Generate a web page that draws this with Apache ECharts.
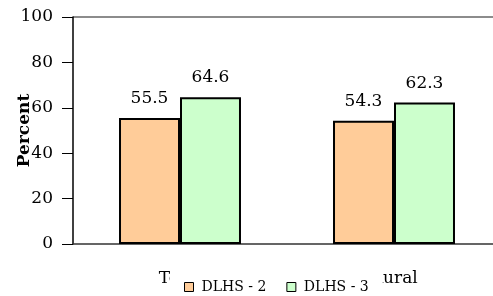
<!DOCTYPE html>
<html>
<head>
<meta charset="utf-8">
<script src="https://cdn.jsdelivr.net/npm/echarts@6/dist/echarts.min.js"></script>
<style>
	html, body { margin: 0; padding: 0; background: #fff; }
	#chart { width: 493px; height: 296px; }
</style>
</head>
<body>
<div id="chart"></div>
<script>
var categories = ['Total', 'Rural'];
var dlhs2 = [55.5, 54.3];
var dlhs3 = [64.6, 62.3];
var yTicks = [0, 20, 40, 60, 80, 100];

var font = 'DejaVu Serif';
let myChart = echarts.init(document.getElementById('chart'));
let option;

// only the top split line (100) is drawn, grey
let splitColors = yTicks.map((v, i) => i == yTicks.length - 1 ? '#8c8c8c' : 'rgba(0,0,0,0)');

function barSeries(name, data, color) {
	return {
		name: name,
		type: 'bar',
		data: data,
		barGap: '0%',
		barCategoryGap: '43%',
		itemStyle: {
			color: color,
			borderColor: '#000',
			borderWidth: 2
		},
		label: {
			show: true,
			position: 'top',
			distance: 11,
			color: '#000',
			fontFamily: font,
			fontSize: 17
		}
	};
}

option = {
	animation: false,
	grid: {
		left: 73,
		top: 17,
		width: 428,
		height: 227,
		containLabel: false,
		outerBoundsMode: 'none'
	},
	legend: {
		data: ['DLHS - 2', 'DLHS - 3'],
		left: 170,
		bottom: 0,
		icon: 'rect',
		itemWidth: 9,
		itemHeight: 9,
		itemGap: 20,
		padding: [12, 14, 2, 14],
		backgroundColor: '#fff',
		itemStyle: {
			borderColor: '#000',
			borderWidth: 1
		},
		textStyle: {
			color: '#000',
			fontFamily: font,
			fontSize: 14,
			padding: [0, 0, 0, 3]
		}
	},
	xAxis: {
		type: 'category',
		data: categories,
		axisLine: { lineStyle: { color: '#333', width: 1.5 } },
		axisTick: { length: 10, lineStyle: { color: '#333' } },
		axisLabel: {
			color: '#000',
			fontFamily: font,
			fontSize: 17,
			margin: 26
		}
	},
	yAxis: {
		type: 'value',
		min: 0,
		max: 100,
		interval: 20,
		name: 'Percent',
		nameLocation: 'middle',
		nameGap: 40,
		nameMoveOverlap: false,
		nameTextStyle: {
			color: '#000',
			fontFamily: font,
			fontSize: 17,
			fontWeight: 'bold'
		},
		axisLine: { show: true, lineStyle: { color: '#000', width: 1.5 } },
		axisTick: { show: true, length: 11, lineStyle: { color: '#000' } },
		axisLabel: {
			color: '#000',
			fontFamily: font,
			fontSize: 17,
			align: 'right',
			margin: 20
		},
		splitLine: {
			show: true,
			lineStyle: { color: splitColors, width: 2 }
		}
	},
	series: [
		barSeries('DLHS - 2', dlhs2, '#ffcc99'),
		barSeries('DLHS - 3', dlhs3, '#ccffcc')
	]
};
option && myChart.setOption(option);
</script>
</body>
</html>
